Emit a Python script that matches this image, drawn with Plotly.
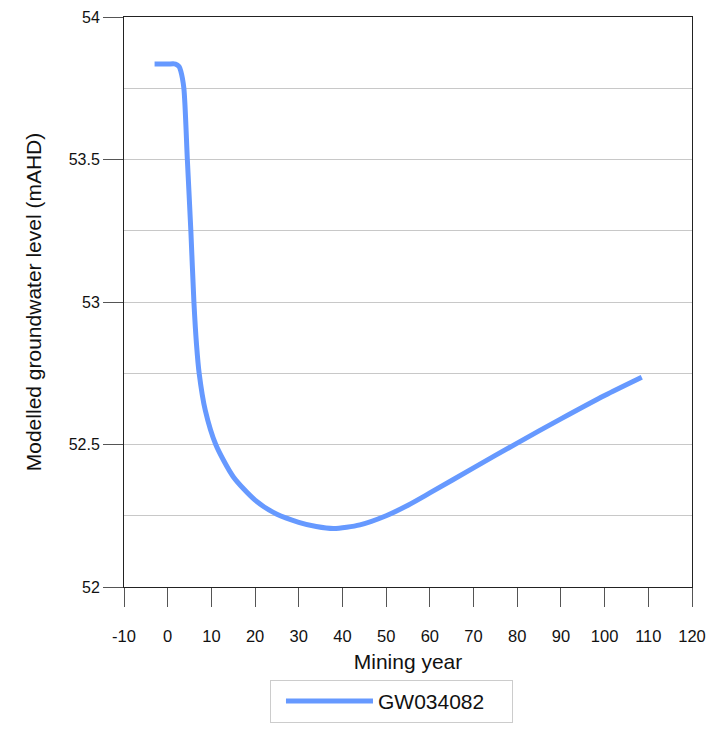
import plotly.graph_objects as go

series_name = "GW034082"
years = [-3, 0, 1.8, 2.6, 3.0, 3.7, 4.5, 5.3, 6.0, 6.6, 7.2, 8.6, 11.0, 15, 20, 25, 30, 34, 38, 44, 50, 55, 60, 70, 80, 90, 100, 108.5]
levels = [53.835, 53.835, 53.835, 53.826, 53.81, 53.75, 53.5, 53.25, 53.0, 52.85, 52.75, 52.62, 52.5, 52.387, 52.305, 52.255, 52.227, 52.212, 52.205, 52.218, 52.25, 52.287, 52.33, 52.418, 52.505, 52.59, 52.672, 52.736]

x_ticks = list(range(-10, 121, 10))
x_tick_labels = [str(v) for v in x_ticks]
y_ticks = [52, 52.5, 53, 53.5, 54]
y_tick_labels = ["52", "52.5", "53", "53.5", "54"]

font_family = "Liberation Sans, Arial, sans-serif"

fig = go.Figure()
fig.add_trace(go.Scatter(
    x=years, y=levels, mode="lines", name=series_name,
    line=dict(color="#6699ff", width=5, shape="spline", smoothing=0.7),
))

fig.update_layout(
    width=718, height=741,
    margin=dict(l=116, r=34, t=9, b=162),
    paper_bgcolor="white", plot_bgcolor="white",
    font=dict(family=font_family, size=16, color="#111"),
    showlegend=True,
    legend=dict(
        orientation="h", x=0.257, xanchor="left", y=-0.163, yanchor="top",
        bordercolor="#cccccc", borderwidth=1, entrywidth=129, itemwidth=87,
        indentation=10,
        font=dict(size=21, color="#111"),
    ),
    xaxis=dict(
        range=[-10, 120], tickvals=x_ticks, ticktext=x_tick_labels,
        ticks="outside", ticklen=19, tickfont=dict(size=16.5),
        tickcolor="#555", tickwidth=1, showline=True, linecolor="#222",
        linewidth=1, mirror=True, showgrid=False, zeroline=False,
        ticklabelstandoff=15, automargin=False,
        title=dict(text="Mining year", standoff=10, font=dict(size=21)),
    ),
    yaxis=dict(
        range=[52, 54], tickvals=y_ticks, ticktext=y_tick_labels,
        ticks="outside", ticklen=20, tickcolor="#555", tickwidth=1,
        tickfont=dict(size=16),
        showline=True, linecolor="#222", linewidth=1, mirror=True,
        showgrid=True, gridcolor="#c8c8c8", gridwidth=1, zeroline=False,
        minor=dict(dtick=0.25, showgrid=True, gridcolor="#c8c8c8", ticks=""),
        ticklabelstandoff=0, automargin=False,
        title=dict(text="Modelled groundwater level (mAHD)", standoff=21, font=dict(size=21)),
    ),
)

fig.write_html("out.html")
